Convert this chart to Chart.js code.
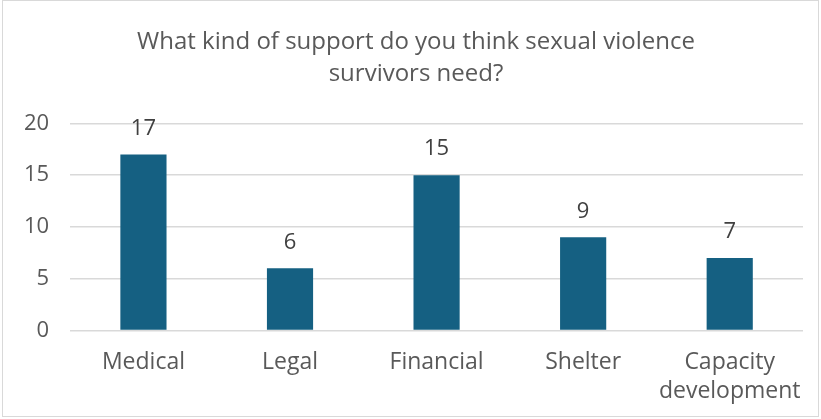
<!DOCTYPE html>
<html>
<head>
<meta charset="utf-8">
<script src="https://cdn.jsdelivr.net/npm/chart.js@4.4.1/dist/chart.umd.min.js"></script>
<style>
  html, body { margin: 0; padding: 0; background: #fff; }
  #wrap {
    position: absolute; left: 2px; top: 0;
    width: 817px; height: 417px;
    border: 1px solid #d9d9d9;
    box-sizing: border-box;
  }
  canvas { display: block; }
</style>
</head>
<body>
<div id="wrap"><canvas id="supportChart"></canvas></div>
<script>
// data
const categories = ["Medical", "Legal", "Financial", "Shelter", ["Capacity", "development"]];
const responses = [17, 6, 15, 9, 7];
const yTicks = [0, 5, 10, 15, 20];

const textGray = "#595959";
const fontFamily = "'Open Sans', 'Noto Sans', sans-serif";

// labels above bars
const valueLabels = {
    id: "valueLabels",
    afterLayout(chart) {
        // center title over the whole box, not just the padded area
        if (chart.titleBlock) {
            chart.titleBlock.left = 11;
            chart.titleBlock.right = chart.width;
        }
    },
    afterDatasetsDraw(chart) {
        const ctx = chart.ctx;
        const meta = chart.getDatasetMeta(0);
        ctx.save();
        ctx.fillStyle = "#404040";
        ctx.font = "22px " + fontFamily;
        ctx.textAlign = "center";
        ctx.textBaseline = "middle";
        meta.data.forEach((bar, i) => {
            ctx.fillText(responses[i], bar.x, bar.y - 26);
        });
        ctx.restore();
    }
};

const ctx = document.getElementById("supportChart");

new Chart(ctx, {
    type: "bar",
    data: {
        labels: categories,
        datasets: [{
            data: responses,
            backgroundColor: "#156082",
            borderWidth: 0,
            barPercentage: 0.315,
            categoryPercentage: 1
        }]
    },
    options: {
        responsive: true,
        maintainAspectRatio: false,
        animation: false,
        layout: {
            padding: { left: 0, right: 15, top: 0, bottom: 0 }
        },
        plugins: {
            legend: { display: false },
            tooltip: { enabled: false },
            title: {
                display: true,
                text: ["What kind of support do you think sexual violence", "survivors need?"],
                color: textGray,
                font: { family: fontFamily, size: 24, weight: "normal", lineHeight: 1.3 },
                padding: { top: 26, bottom: 34 }
            }
        },
        scales: {
            x: {
                grid: { display: false },
                border: { display: false },
                ticks: {
                    color: textGray,
                    font: { family: fontFamily, size: 23, lineHeight: 1.25 },
                    padding: 10,
                    maxRotation: 0
                }
            },
            y: {
                min: 0,
                max: 20,
                afterBuildTicks(axis) {
                    axis.ticks = yTicks.map(v => ({ value: v }));
                },
                grid: { color: "#d9d9d9", lineWidth: 1.5, drawTicks: false },
                border: { display: false },
                ticks: {
                    color: textGray,
                    font: { family: fontFamily, size: 22 },
                    padding: 21
                }
            }
        }
    },
    plugins: [valueLabels]
});
</script>
</body>
</html>
